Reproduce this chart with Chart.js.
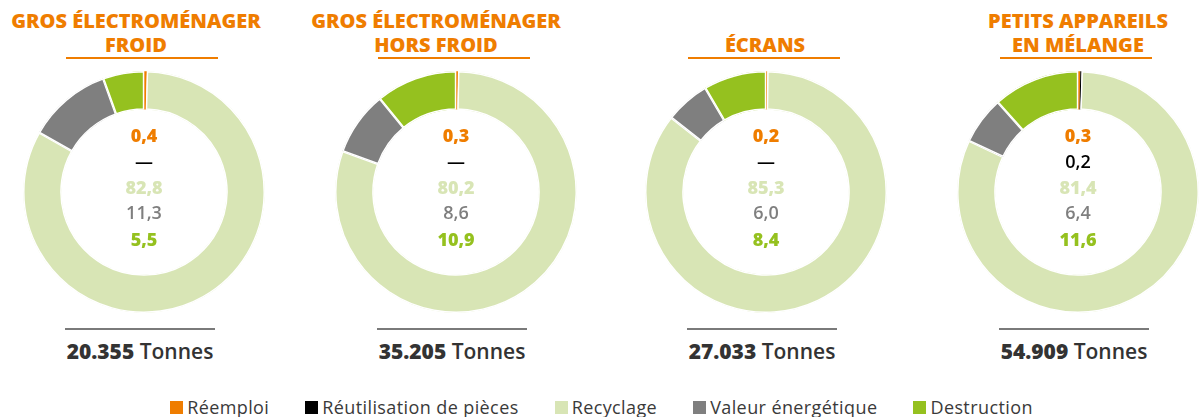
<!DOCTYPE html>
<html>
<head>
<meta charset="utf-8">
<script src="https://cdn.jsdelivr.net/npm/chart.js@4.4.1/dist/chart.umd.min.js"></script>
<style>
  body { margin: 0; background: #fff; width: 1203px; height: 417px; overflow: hidden; position: relative; font-family: "Open Sans", "Lato", sans-serif; }
  .title { position: absolute; top: 9px; width: 340px; margin-left: -170px; text-align: center; color: #EF7D00; font-weight: 800; font-size: 20px; line-height: 24px; }
  .uline { position: absolute; top: 57px; height: 2px; width: 152px; margin-left: -76px; background: #EF7D00; }
  .box { position: absolute; top: 67px; width: 250px; height: 250px; margin-left: -125px; }
  .gline { position: absolute; top: 328px; height: 2px; width: 150px; margin-left: -75px; background: #7a7a7a; }
  .tonnes { position: absolute; top: 337px; width: 260px; margin-left: -130px; text-align: center; color: #333; font-size: 21px; font-weight: 600; line-height: 28px; }
  .tonnes b { font-weight: 800; }
  .legend { position: absolute; top: 395px; left: 0; width: 1203px; display: flex; justify-content: center; color: #3a3a3a; font-size: 18px; letter-spacing: 0.4px; line-height: 24px; }
  .legend span.item { display: flex; align-items: center; margin: 0 18px; }
  .legend i { display: inline-block; width: 13px; height: 13px; margin-right: 4px; }
</style>
</head>
<body>
<div id="root"></div>
<div class="legend" id="legend"></div>
<script>
const categories = ["Réemploi", "Réutilisation de pièces", "Recyclage", "Valeur énergétique", "Destruction"];
const colors = ["#EF7D00", "#000000", "#D8E5B5", "#7F7F7F", "#95C11F"];
const titles = [
  ["GROS ÉLECTROMÉNAGER", "FROID"],
  ["GROS ÉLECTROMÉNAGER", "HORS FROID"],
  ["ÉCRANS"],
  ["PETITS APPAREILS", "EN MÉLANGE"]
];
const froid = [0.4, 0, 82.8, 11.3, 5.5];
const horsFroid = [0.3, 0, 80.2, 8.6, 10.9];
const ecrans = [0.2, 0, 85.3, 6.0, 8.4];
const petits = [0.3, 0.2, 81.4, 6.4, 11.6];
const tonnes = ["20.355", "35.205", "27.033", "54.909"];

const series = [froid, horsFroid, ecrans, petits];
const centers = [144, 456, 766, 1078];
const titleCenters = [136, 436, 765, 1078];

const fmt = (v) => v === 0 ? "—" : v.toFixed(1).replace(".", ",");

const centerText = {
  id: "centerText",
  afterDraw(chart) {
    const arc = chart.getDatasetMeta(0).data[0];
    const cx = arc.x, cy = arc.y;
    const ctx = chart.ctx;
    const vals = chart.data.datasets[0].data;
    const weights = [800, 600, 800, 600, 800];
    const offs = [-55, -29, -3, 22, 49];
    ctx.save();
    ctx.textAlign = "center";
    ctx.textBaseline = "middle";
    vals.forEach((v, i) => {
      ctx.fillStyle = colors[i];
      ctx.font = weights[i] + " 18px 'Open Sans', Lato, sans-serif";
      ctx.fillText(fmt(v), cx, cy + offs[i]);
    });
    ctx.restore();
  }
};

const root = document.getElementById("root");
series.forEach((data, k) => {
  const t = document.createElement("div");
  t.className = "title";
  t.style.left = titleCenters[k] + "px";
  if (titles[k].length === 1) t.style.top = "33px";
  t.innerHTML = titles[k].join("<br>");
  root.appendChild(t);

  const u = document.createElement("div");
  u.className = "uline";
  u.style.left = centers[k] - 2 + "px";
  root.appendChild(u);

  const box = document.createElement("div");
  box.className = "box";
  box.style.left = centers[k] + "px";
  const cv = document.createElement("canvas");
  box.appendChild(cv);
  root.appendChild(box);

  const g = document.createElement("div");
  g.className = "gline";
  g.style.left = centers[k] - 4 + "px";
  root.appendChild(g);

  const tn = document.createElement("div");
  tn.className = "tonnes";
  tn.style.left = centers[k] - 4 + "px";
  tn.innerHTML = "<b>" + tonnes[k] + "</b> Tonnes";
  root.appendChild(tn);

  new Chart(cv, {
    type: "doughnut",
    data: {
      labels: categories,
      datasets: [{
        data: data,
        backgroundColor: colors,
        borderColor: "#FFFFFF",
        borderAlign: "inner",
        borderWidth: [0, 0, 1.2, 1.2, 1.2]
      }]
    },
    options: {
      responsive: true,
      maintainAspectRatio: false,
      animation: false,
      radius: 121,
      cutout: 85,
      plugins: { legend: { display: false }, tooltip: { enabled: false } }
    },
    plugins: [centerText]
  });
});

const legend = document.getElementById("legend");
categories.forEach((c, i) => {
  const s = document.createElement("span");
  s.className = "item";
  s.innerHTML = '<i style="background:' + colors[i] + '"></i>' + c;
  legend.appendChild(s);
});
</script>
</body>
</html>
